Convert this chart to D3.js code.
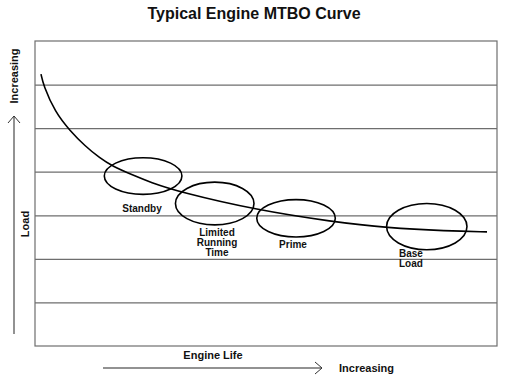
<!DOCTYPE html>
<html><head><meta charset="utf-8">
<script src="https://cdn.jsdelivr.net/npm/d3@7"></script>
<style>body{margin:0;background:#fff}svg{display:block}text{font-family:Arial,"Liberation Sans",sans-serif;font-weight:bold;fill:#111}</style>
</head><body>
<script>
// Curve points (Engine Life %, Load units)
const lifeValues = [1.30, 1.80, 4.33, 7.58, 10.82, 14.07, 16.67, 21.21, 24.89, 31.39, 48.05, 64.50, 76.19, 89.18, 97.84];
const loadValues = [6.24, 5.99, 5.37, 4.94, 4.59, 4.31, 4.13, 3.92, 3.76, 3.53, 3.12, 2.85, 2.71, 2.64, 2.62];
// Rating regions (ellipses): center life, center load, half-width (life), half-height (load)
const ratingNames = ["Standby", "Limited Running Time", "Prime", "Base Load"];
const ratingCx = [23.4, 38.9, 56.5, 84.8];
const ratingCy = [3.90, 3.27, 2.93, 2.74];
const ratingRx = [8.4, 8.5, 8.5, 8.7];
const ratingRy = [0.42, 0.49, 0.43, 0.53];
const ratingLabelLines = [["Standby"], ["Limited", "Running", "Time"], ["Prime"], ["Base", "Load"]];
const gridTicks = [1, 2, 3, 4, 5, 6];

const W = 507, H = 378;
const m = {left: 35, right: 10, top: 41, bottom: 32};
const svg = d3.select("body").append("svg").attr("width", W).attr("height", H);
const x = d3.scaleLinear().domain([0, 100]).range([m.left, W - m.right]);
const y = d3.scaleLinear().domain([0, 7]).range([H - m.bottom, m.top]);

// grid lines
const gridAxis = d3.axisLeft(y).tickValues(gridTicks).tickSize(-(x(100) - x(0))).tickFormat("");
const g = svg.append("g").attr("transform", `translate(${x(0)},0)`).call(gridAxis);
g.select(".domain").remove();
g.selectAll(".tick line").attr("stroke", "#6e6e6e").attr("stroke-width", 1.2);

// frame
svg.append("rect").attr("x", x(0)).attr("y", y(7)).attr("width", x(100) - x(0)).attr("height", y(0) - y(7))
  .attr("fill", "none").attr("stroke", "#6e6e6e").attr("stroke-width", 1.2);

// curve
const pts = lifeValues.map((v, i) => [v, loadValues[i]]);
svg.append("path").datum(pts)
  .attr("d", d3.line().x(d => x(d[0])).y(d => y(d[1])).curve(d3.curveBasis))
  .attr("fill", "none").attr("stroke", "#000").attr("stroke-width", 1.6);

// ellipses
ratingNames.forEach((n, i) => {
  svg.append("ellipse")
    .attr("cx", x(ratingCx[i])).attr("cy", y(ratingCy[i]))
    .attr("rx", x(ratingRx[i]) - x(0)).attr("ry", y(0) - y(ratingRy[i]))
    .attr("fill", "none").attr("stroke", "#000").attr("stroke-width", 1.6);
});

// labels
const labelPos = [[142, 212, "middle"], [217, 236, "middle"], [293, 248, "middle"], [399, 257, "start"]];
ratingLabelLines.forEach((lines, i) => {
  const [lx, ly, anchor] = labelPos[i];
  lines.forEach((t, j) => {
    svg.append("text").attr("x", lx).attr("y", ly + j * 10.2).attr("text-anchor", anchor)
      .attr("font-size", 10).text(t);
  });
});

// title
svg.append("text").attr("x", 254).attr("y", 19).attr("text-anchor", "middle").attr("font-size", 16).text("Typical Engine MTBO Curve");

// left arrow
svg.append("line").attr("x1", 14).attr("x2", 14).attr("y1", 116).attr("y2", 334).attr("stroke", "#6e6e6e").attr("stroke-width", 1.5);
svg.append("path").attr("d", "M8,123 L14,116 L20,123").attr("fill", "none").attr("stroke", "#333").attr("stroke-width", 1);
svg.append("text").attr("transform", "translate(18,76) rotate(-90)").attr("text-anchor", "middle").attr("font-size", 11).text("Increasing");
svg.append("text").attr("transform", "translate(29,224) rotate(-90)").attr("text-anchor", "middle").attr("font-size", 11).text("Load");

// bottom arrow
svg.append("line").attr("x1", 103).attr("x2", 322).attr("y1", 368).attr("y2", 368).attr("stroke", "#6e6e6e").attr("stroke-width", 1.5);
svg.append("path").attr("d", "M315,362 L322,368 L315,374").attr("fill", "none").attr("stroke", "#333").attr("stroke-width", 1);
svg.append("text").attr("x", 213).attr("y", 359).attr("text-anchor", "middle").attr("font-size", 11).text("Engine Life");
svg.append("text").attr("x", 339).attr("y", 372).attr("text-anchor", "start").attr("font-size", 11).text("Increasing");
</script>
</body></html>
